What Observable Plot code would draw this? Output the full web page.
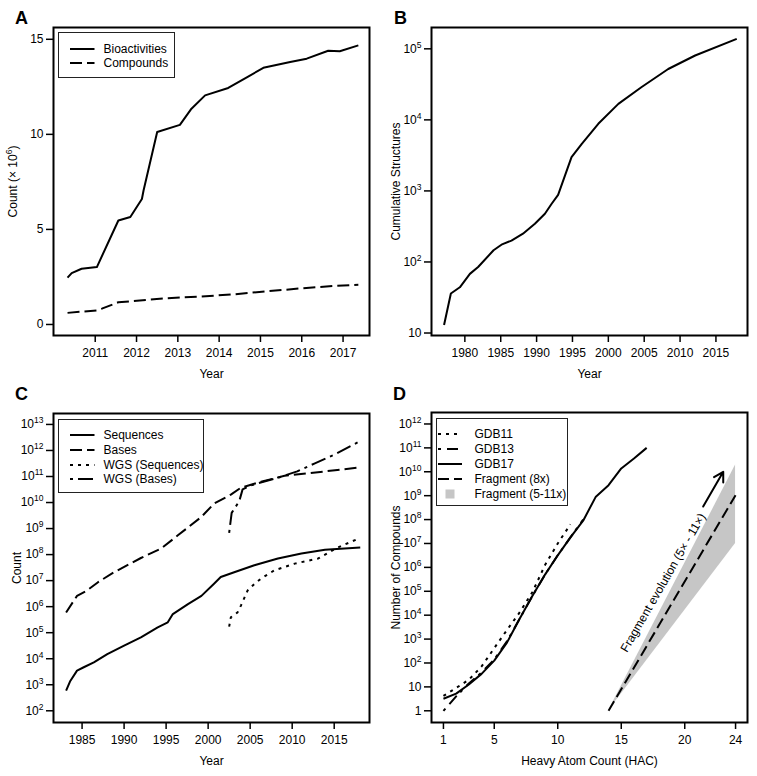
<!DOCTYPE html>
<html>
<head>
<meta charset="utf-8">
<script src="https://cdn.jsdelivr.net/npm/d3@7"></script>
<script src="https://cdn.jsdelivr.net/npm/@observablehq/plot@0.6"></script>
<style>
  body { margin: 0; background: #fff; font-family: "Liberation Sans", Arial, Helvetica, sans-serif; }
  #wrap { position: relative; width: 757px; height: 776px; overflow: hidden; background: #fff; }
  .panel { position: absolute; }
  .letter { position: absolute; font-weight: bold; font-size: 18px; line-height: 18px; color: #000; }
  .legend { position: absolute; border: 1.5px solid #222; background: #fff; box-sizing: border-box; font-size: 12px; color: #000; }
  .legend .row { position: absolute; height: 14px; line-height: 14px; white-space: nowrap; }
  .legend svg { position: absolute; overflow: visible; }
</style>
</head>
<body>
<div id="wrap"></div>
<script>
// ================= DATA =================
// Panel A — ChEMBL-like growth (counts ×10^6)
const yearsBio = [2010.33, 2010.43, 2010.67, 2011.04, 2011.56, 2011.85, 2012.13, 2012.17, 2012.5, 2013.05, 2013.33, 2013.66, 2014.22, 2014.67, 2015.07, 2015.72, 2016.12, 2016.64, 2016.92, 2017.37];
const bioactivities = [2.46, 2.7, 2.93, 3.02, 5.47, 5.65, 6.6, 7.05, 10.12, 10.5, 11.35, 12.05, 12.44, 13.0, 13.5, 13.8, 13.98, 14.4, 14.37, 14.68];
const yearsCmp = [2010.33, 2011.04, 2011.16, 2011.56, 2012.08, 2012.73, 2013.53, 2014.33, 2015.13, 2015.94, 2016.74, 2017.37];
const compounds = [0.61, 0.74, 0.83, 1.17, 1.26, 1.38, 1.47, 1.58, 1.74, 1.89, 2.02, 2.09];
const ticksAx = [2011, 2012, 2013, 2014, 2015, 2016, 2017];
const ticksAy = [0, 5, 10, 15];

// Panel B — cumulative structures
const yearsStruct = [1977.1, 1978.05, 1979.3, 1980.7, 1981.85, 1984, 1985.1, 1986.5, 1988.1, 1989.76, 1991.16, 1992.1, 1993.0, 1994.87, 1996.3, 1998.6, 2001.4, 2004.6, 2008.35, 2012.1, 2017.9];
const structures = [13, 36, 44, 68, 85, 146, 175, 200, 250, 345, 478, 660, 880, 2985, 4600, 8800, 16800, 28800, 52000, 80500, 138000];
const ticksBx = [1980, 1985, 1990, 1995, 2000, 2005, 2010, 2015];
const ticksBy = [10, 1e2, 1e3, 1e4, 1e5];

// Panel C — sequence databases
const yearsSeq = [1983.1, 1983.6, 1984.4, 1985.2, 1986.4, 1988, 1990, 1992, 1994, 1995.2, 1995.8, 1997.6, 1999.2, 2000.7, 2001.5, 2003.1, 2005.5, 2008.3, 2011.1, 2013.9, 2018.1];
const sequences = [5.9e2, 1.4e3, 3.5e3, 4.7e3, 7.2e3, 1.5e4, 3.2e4, 6.6e4, 1.6e5, 2.5e5, 5.2e5, 1.26e6, 2.6e6, 7.6e6, 1.38e7, 2.1e7, 3.9e7, 7.1e7, 1.1e8, 1.55e8, 1.86e8];
const yearsBases = [1983.1, 1984.4, 1985.6, 1986.9, 1988.8, 1992, 1994.4, 1996.4, 1999.2, 2000.7, 2002.7, 2003.9, 2006.3, 2009.1, 2011.9, 2015.1, 2018.1];
const bases = [6.0e5, 2.6e6, 4.2e6, 8.7e6, 2.1e7, 7.4e7, 1.7e8, 5.5e8, 2.8e9, 9.1e9, 2.0e10, 3.7e10, 6.3e10, 1.07e11, 1.32e11, 1.74e11, 2.24e11];
const yearsWgsSeq = [2002.5, 2002.7, 2003.5, 2003.9, 2004.7, 2005.5, 2006.3, 2007.9, 2010.3, 2013.1, 2015.3, 2018.1];
const wgsSequences = [1.7e5, 3.9e5, 6.0e5, 1.1e6, 4.2e6, 7.4e6, 1.2e7, 2.5e7, 4.5e7, 7.1e7, 1.8e8, 4.4e8];
const yearsWgsBases = [2002.5, 2002.8, 2003.7, 2004.1, 2005.0, 2008.3, 2010.6, 2012.7, 2015.1, 2018.1];
const wgsBases = [6.8e8, 4.0e9, 1.12e10, 3.2e10, 4.5e10, 8.9e10, 1.58e11, 3.2e11, 7.1e11, 2.3e12];
const ticksCx = [1985, 1990, 1995, 2000, 2005, 2010, 2015];
const ticksCy = [1e2, 1e3, 1e4, 1e5, 1e6, 1e7, 1e8, 1e9, 1e10, 1e11, 1e12, 1e13];

// Panel D — chemical space enumeration
const hac11 = [1, 2, 3, 4, 5, 6, 7, 8, 9, 10, 11];
const gdb11 = [4.2, 9, 20, 71, 417, 2.4e3, 1.3e4, 9.1e4, 1.26e6, 1.0e7, 6.3e7];
const hac13 = [1, 2, 3, 4, 5, 6, 7, 8, 9, 10, 11, 12];
const gdb13 = [1, 4, 14, 40, 141, 800, 7.1e3, 6.3e4, 5.0e5, 3.2e6, 1.8e7, 1.0e8];
const hac17 = [1, 2, 3, 4, 5, 6, 7, 8, 9, 10, 11, 12, 13, 14, 15, 16, 17];
const gdb17 = [3.2, 5.2, 12.6, 35, 126, 710, 7.1e3, 6.3e4, 5.0e5, 3.2e6, 1.8e7, 9.0e7, 9.1e8, 2.75e9, 1.38e10, 3.6e10, 1.0e11];
const hacFrag = [14, 24];
const fragment8x = [1, 1.05e9];
const fragmentLow5x = [1, 1.0e7];
const fragmentHigh11x = [1, 1.9e10];
const arrowHac = [21.45, 23.03];
const arrowCount = [3.5e8, 1.0e10];
const evolutionText = ["Fragment evolution (5× - 11×)"];
const evolutionHac = [18.3];
const evolutionCount = [2.3e5];
const ticksDx = [1, 5, 10, 15, 20, 24];
const ticksDy = [1, 10, 1e2, 1e3, 1e4, 1e5, 1e6, 1e7, 1e8, 1e9, 1e10, 1e11, 1e12];

// ================= STYLE =================
const FONT = '"Liberation Sans", Arial, Helvetica, sans-serif';
const DASH = {
  solid: null,
  dashed: "12,5",
  dotted: "3,5",
  dotdash: "3,5,15,5",
  gdb13: "3,6,11,5",
  frag: "11,5"
};
const LW = 2;
const BAND = "#c6c6c6";

const logFmt = d => {
  const e = Math.round(Math.log10(d));
  return e === 0 ? "1" : e === 1 ? "10" : "10^" + e;
};

const wrap = document.getElementById("wrap");
const NS = "http://www.w3.org/2000/svg";

function supify(svg) {
  svg.querySelectorAll("text").forEach(t => {
    if (t.children.length) return;
    const m = (t.textContent || "").match(/^(.*?)\^(\d+)(.*)$/);
    if (!m) return;
    t.textContent = m[1];
    const s = document.createElementNS(NS, "tspan");
    s.setAttribute("dy", "-5");
    s.setAttribute("font-size", "8.5");
    s.textContent = m[2];
    t.appendChild(s);
    if (m[3]) {
      const r = document.createElementNS(NS, "tspan");
      r.setAttribute("dy", "5");
      r.textContent = m[3];
      t.appendChild(r);
    }
  });
}

function panel(cfg) {
  const svg = Plot.plot({
    width: cfg.width, height: cfg.height,
    marginTop: cfg.mt, marginBottom: cfg.mb, marginLeft: cfg.ml, marginRight: cfg.mr,
    style: {fontSize: "12px", fontFamily: FONT, color: "#000", background: "transparent", overflow: "visible"},
    x: cfg.x, y: cfg.y,
    marks: [
      ...cfg.marks,
      Plot.frame({stroke: "#000", strokeWidth: 2}),
      Plot.axisX({ticks: cfg.xTicks, tickSize: 7, tickPadding: 6, strokeWidth: 1.5, tickFormat: d => String(d),
        label: cfg.xLabel, labelAnchor: "center", labelOffset: 42, labelArrow: "none"}),
      Plot.axisY({ticks: cfg.yTicks, tickSize: 7, tickPadding: 3, strokeWidth: 1.5, tickFormat: cfg.yFormat,
        label: cfg.yLabel, labelAnchor: "center", labelOffset: cfg.yLabelOffset, labelArrow: "none"})
    ]
  });
  supify(svg);
  const div = document.createElement("div");
  div.className = "panel";
  div.style.left = cfg.left + "px";
  div.style.top = cfg.top + "px";
  div.appendChild(svg);
  wrap.appendChild(div);
}

function letter(txt, left, top) {
  const d = document.createElement("div");
  d.className = "letter";
  d.textContent = txt;
  d.style.left = left + "px";
  d.style.top = top + "px";
  wrap.appendChild(d);
}

function legend(box, items) {
  const d = document.createElement("div");
  d.className = "legend";
  Object.assign(d.style, {left: box.left + "px", top: box.top + "px", width: box.w + "px", height: box.h + "px"});
  items.forEach((it, i) => {
    const cy = box.row0 + i * box.step;
    const s = document.createElementNS(NS, "svg");
    s.setAttribute("width", box.sw);
    s.setAttribute("height", 10);
    s.style.left = box.sx + "px";
    s.style.top = (cy - 5) + "px";
    if (it.fill) {
      const r = document.createElementNS(NS, "rect");
      r.setAttribute("x", box.sw / 2 - 4.5); r.setAttribute("y", 0.5);
      r.setAttribute("width", 9); r.setAttribute("height", 9);
      r.setAttribute("fill", it.fill);
      s.appendChild(r);
    } else {
      const l = document.createElementNS(NS, "line");
      l.setAttribute("x1", 0); l.setAttribute("x2", box.sw);
      l.setAttribute("y1", 5); l.setAttribute("y2", 5);
      l.setAttribute("stroke", "#000"); l.setAttribute("stroke-width", LW);
      if (it.dash) l.setAttribute("stroke-dasharray", it.dash);
      s.appendChild(l);
    }
    d.appendChild(s);
    const t = document.createElement("div");
    t.className = "row";
    t.style.left = box.tx + "px";
    t.style.top = (cy - 7) + "px";
    t.textContent = it.label;
    d.appendChild(t);
  });
  wrap.appendChild(d);
}

const line = (xs, ys, dash) => Plot.line(ys, {x: xs, y: ys, stroke: "#000", strokeWidth: LW, strokeDasharray: dash, strokeLinecap: "butt", strokeLinejoin: "round"});

// ================= PANEL A =================
panel({
  left: 0, top: 0, width: 378, height: 388, mt: 27, mb: 53, ml: 53, mr: 9,
  x: {domain: [2009.99, 2017.64]},
  y: {domain: [-0.58, 15.62]},
  xTicks: ticksAx, yTicks: ticksAy, yFormat: d => String(d),
  xLabel: "Year", yLabel: "Count (× 10^6)", yLabelOffset: 45,
  marks: [
    line(yearsBio, bioactivities, DASH.solid),
    line(yearsCmp, compounds, DASH.dashed)
  ]
});

// ================= PANEL B =================
panel({
  left: 378, top: 0, width: 379, height: 388, mt: 27, mb: 53, ml: 53, mr: 10,
  x: {domain: [1975.35, 2019.4]},
  y: {type: "log", domain: [10 ** 0.965, 10 ** 5.3]},
  xTicks: ticksBx, yTicks: ticksBy, yFormat: logFmt,
  xLabel: "Year", yLabel: "Cumulative Structures", yLabelOffset: 40,
  marks: [
    line(yearsStruct, structures, DASH.solid)
  ]
});

// ================= PANEL C =================
panel({
  left: 0, top: 388, width: 378, height: 388, mt: 25, mb: 54, ml: 53, mr: 9,
  x: {domain: [1981.6, 2019.2]},
  y: {type: "log", domain: [10 ** 1.55, 10 ** 13.42]},
  xTicks: ticksCx, yTicks: ticksCy, yFormat: logFmt,
  xLabel: "Year", yLabel: "Count", yLabelOffset: 41,
  marks: [
    line(yearsSeq, sequences, DASH.solid),
    line(yearsBases, bases, DASH.dashed),
    line(yearsWgsSeq, wgsSequences, DASH.dotted),
    line(yearsWgsBases, wgsBases, DASH.dotdash)
  ]
});

// ================= PANEL D =================
panel({
  left: 378, top: 388, width: 379, height: 388, mt: 24, mb: 54, ml: 53, mr: 10,
  x: {domain: [0.06, 24.94]},
  y: {type: "log", domain: [10 ** -0.49, 10 ** 12.48]},
  xTicks: ticksDx, yTicks: ticksDy, yFormat: logFmt,
  xLabel: "Heavy Atom Count (HAC)", yLabel: "Number of Compounds", yLabelOffset: 40,
  marks: [
    Plot.areaY(hacFrag, {x: hacFrag, y1: fragmentLow5x, y2: fragmentHigh11x, fill: BAND}),
    line(hac11, gdb11, DASH.dotted),
    line(hac13, gdb13, DASH.gdb13),
    line(hac17, gdb17, DASH.solid),
    line(hacFrag, fragment8x, DASH.frag),
    Plot.arrow([0], {x1: [arrowHac[0]], y1: [arrowCount[0]], x2: [arrowHac[1]], y2: [arrowCount[1]], stroke: "#000", strokeWidth: 2, headLength: 8}),
    Plot.text(evolutionText, {x: evolutionHac, y: evolutionCount, text: d => d, rotate: -60, fontSize: 12, fill: "#000"})
  ]
});

// ================= LETTERS & LEGENDS =================
letter("A", 15, 9);
letter("B", 394, 9);
letter("C", 15, 385);
letter("D", 393, 385);

legend({left: 58, top: 32, w: 117, h: 46, row0: 16, step: 14.4, sx: 10.5, sw: 24.5, tx: 44.5}, [
  {label: "Bioactivities", dash: DASH.solid},
  {label: "Compounds", dash: DASH.dashed}
]);
legend({left: 58, top: 418.5, w: 146, h: 74, row0: 15.5, step: 14.8, sx: 10.5, sw: 24.5, tx: 44.5}, [
  {label: "Sequences", dash: DASH.solid},
  {label: "Bases", dash: DASH.dashed},
  {label: "WGS (Sequences)", dash: DASH.dotted},
  {label: "WGS (Bases)", dash: DASH.dotdash}
]);
legend({left: 436, top: 417.5, w: 132, h: 88.5, row0: 15.5, step: 14.9, sx: 1, sw: 24, tx: 37.5}, [
  {label: "GDB11", dash: DASH.dotted},
  {label: "GDB13", dash: DASH.gdb13},
  {label: "GDB17", dash: DASH.solid},
  {label: "Fragment (8x)", dash: DASH.frag},
  {label: "Fragment (5-11x)", fill: BAND}
]);
</script>
</body>
</html>
